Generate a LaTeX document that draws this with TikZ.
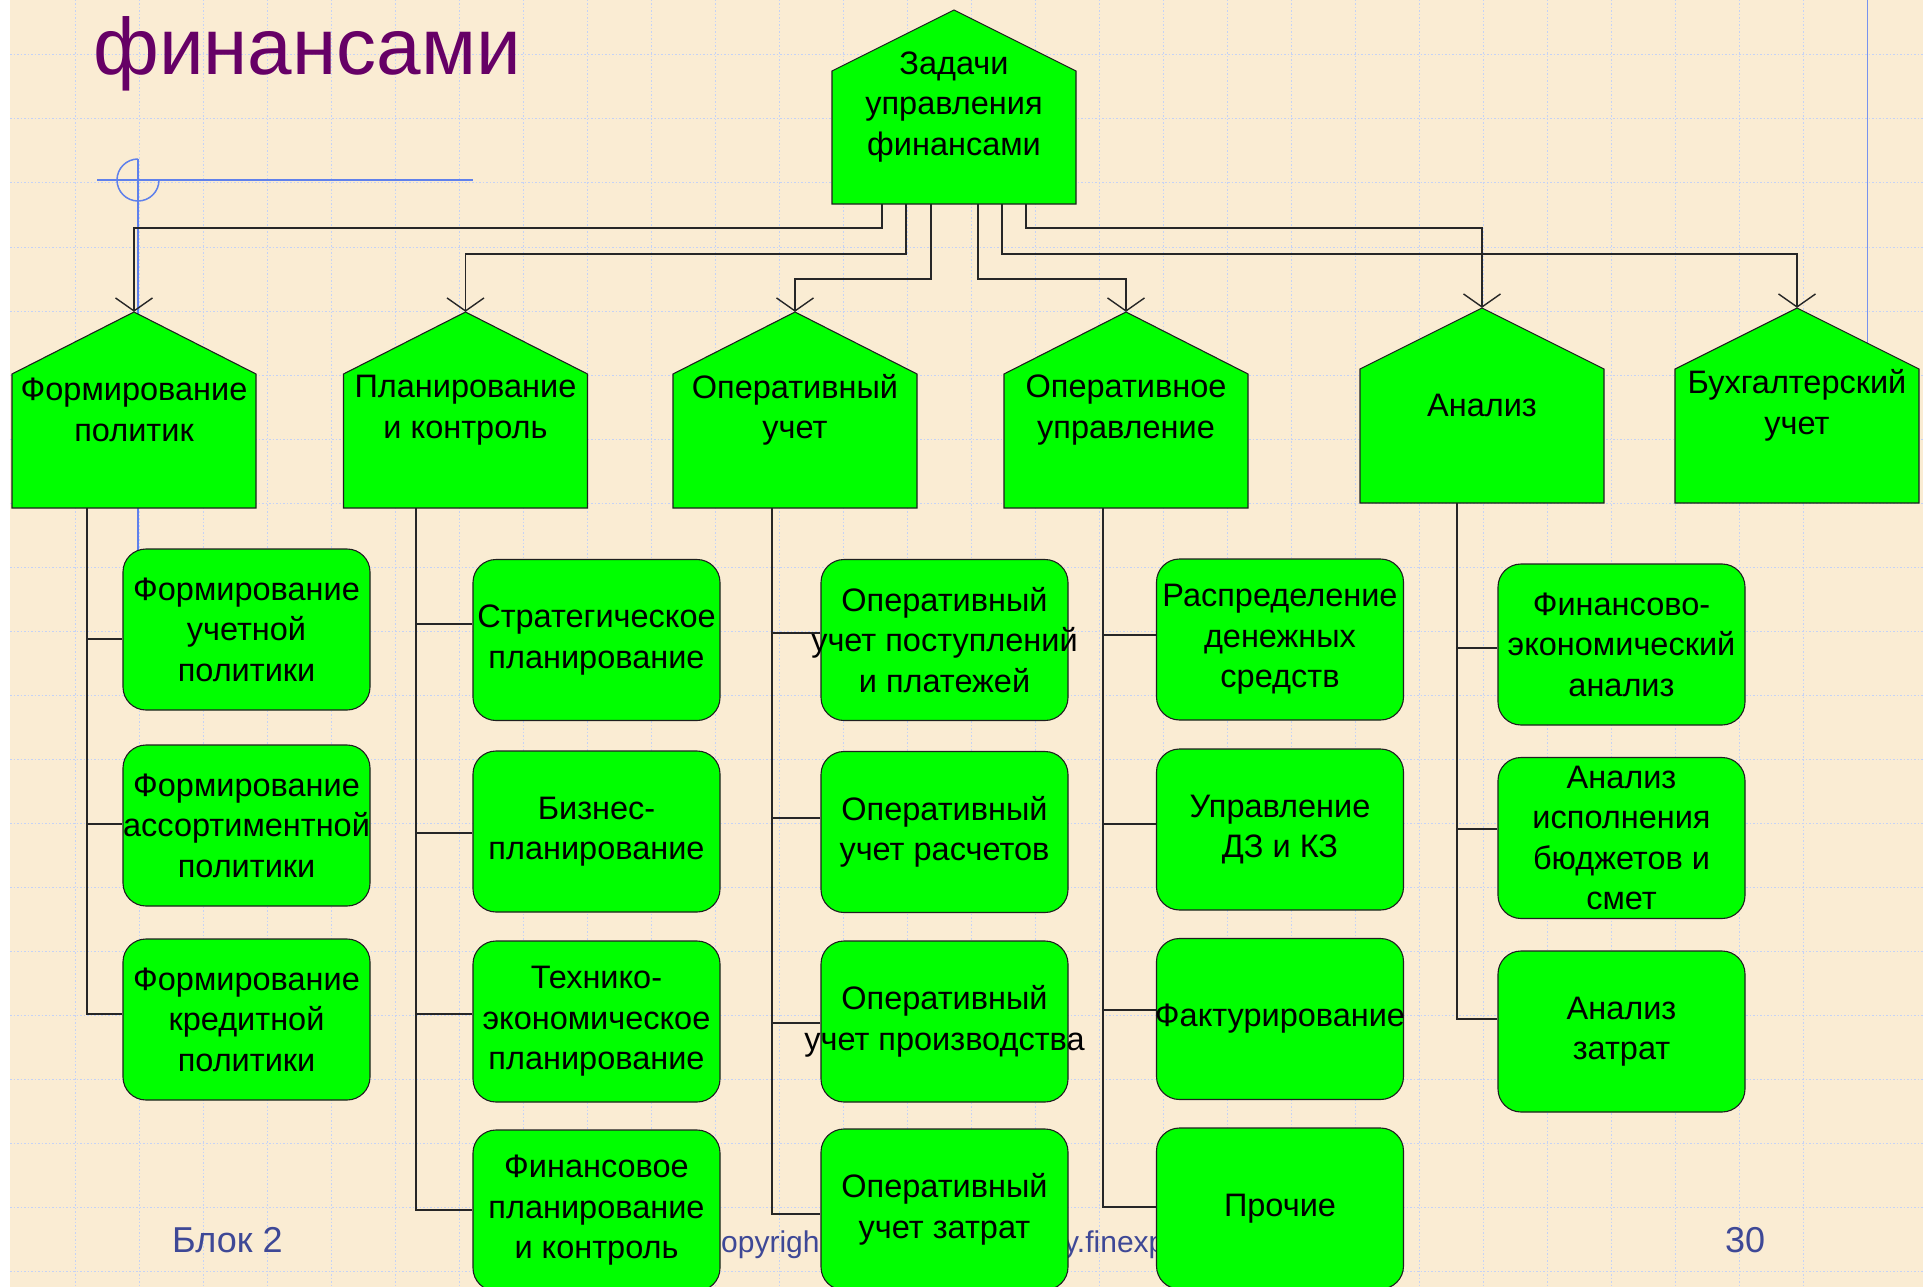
\documentclass[tikz,border=0pt]{standalone}
\usepackage{fontspec}
\setmainfont{Liberation Sans}
\usetikzlibrary{arrows.meta,calc}

\pgfdeclarelayer{back}
\pgfdeclarelayer{lines}
\pgfsetlayers{back,lines,main}

\definecolor{paper}{RGB}{250,236,211}
\definecolor{gridblue}{RGB}{196,210,246}
\definecolor{guideblue}{RGB}{95,128,235}
\definecolor{boxgreen}{RGB}{0,255,0}
\definecolor{titlepurple}{RGB}{102,0,102}
\definecolor{footblue}{RGB}{62,72,150}

\newcommand\boxfont{\fontsize{32.5}{40.5}\selectfont}

\tikzset{
  % negative x-padding keeps the box at its fixed size when a line runs wider
  box/.style={draw=black!88, line width=1.1pt, fill=boxgreen, rounded corners=23pt,
    minimum width=247pt, minimum height=161pt, inner xsep=-60pt, inner ysep=0pt,
    align=center, font=\boxfont},
  housetext/.style={minimum width=244pt, inner xsep=-60pt, inner ysep=0pt,
    align=center, font=\boxfont},
  houseshape/.style={draw=black!88, line width=1.1pt, fill=boxgreen},
  conn/.style={line width=1.2pt, draw=black!85},
  tip/.style={-{Straight Barb[length=13pt,width=37pt,line width=1.4pt]}},
  gridline/.style={gridblue, line width=1pt, dash pattern=on 1.5pt off 2pt},
  guide/.style={guideblue, line width=1.5pt},
  foot/.style={anchor=base west, inner sep=0pt, text=footblue},
}

% pentagon ("house") block: name, centre x, apex y, bottom y, roof drop, label
\newcommand\roofbox[6]{%
  \filldraw[houseshape] ({#2-122},#4) -- ({#2-122},{#3+#5}) -- (#2,#3)
    -- ({#2+122},{#3+#5}) -- ({#2+122},#4) -- cycle;
  \node[housetext, minimum height={#4-#3}] (#1) at (#2,{(#3+#4)/2}) {#6};
}

\begin{document}
\begin{tikzpicture}[x=1pt,y=-1pt]
\useasboundingbox (0,0) rectangle (1923,1287);

% paper, grid, guides, title and footer
\begin{pgfonlayer}{back}
  \fill[white] (0,0) rectangle (1923,1287);
  \fill[paper] (10,0) rectangle (1923,1287);
  \foreach \i in {0,...,27} \draw[gridline] ({75+64*\i},0) -- ({75+64*\i},1287);
  \foreach \j in {0,...,19} \draw[gridline] (10,{55+64*\j}) -- (1923,{55+64*\j});
  \draw[guideblue!85, line width=1pt] (1867,0) -- (1867,400);
  \draw[guide] (97,180) -- (473,180);
  \draw[guide] (138,159) -- (138,560);
  \draw[guide] (138,159) arc[start angle=270, end angle=0, radius=21];
  \node[anchor=base west, inner sep=0pt, text=titlepurple,
        font=\fontsize{80}{90}\selectfont] (title) at (93,75) {финансами};
  \node[foot, font=\fontsize{36}{40}\selectfont] (blk) at (172,1252) {Блок 2};
  \node[foot, font=\fontsize{30}{34}\selectfont] (cpa) at (721,1252) {opyrigh};
  \node[foot, font=\fontsize{30}{34}\selectfont] (cpb) at (1064,1252) {y.finexp};
  \node[foot, font=\fontsize{36}{40}\selectfont] (num) at (1725,1252) {30};
\end{pgfonlayer}

% top block and the six headings
\roofbox{top}{954}{10}{204}{61}{Задачи\\управления\\финансами}
\roofbox{h1}{134}{312}{508}{62}{Формирование\\политик}
\roofbox{h2}{465.5}{312}{508}{62}{Планирование\\и контроль}
\roofbox{h3}{795}{312}{508}{62}{Оперативный\\учет}
\roofbox{h4}{1126}{312}{508}{62}{Оперативное\\управление}
\roofbox{h5}{1482}{308}{503}{61}{Анализ}
\roofbox{h6}{1797}{308}{503}{61}{Бухгалтерский\\учет}

% column 1
\node[box] (b11) at (246.5,629.5) {Формирование\\учетной\\политики};
\node[box] (b12) at (246.5,825.5) {Формирование\\ассортиментной\\политики};
\node[box] (b13) at (246.5,1019.5) {Формирование\\кредитной\\политики};
% column 2
\node[box] (b21) at (596.5,640) {Стратегическое\\планирование};
\node[box] (b22) at (596.5,831.5) {Бизнес-\\планирование};
\node[box] (b23) at (596.5,1021.5) {Технико-\\экономическое\\планирование};
\node[box] (b24) at (596.5,1210.5) {Финансовое\\планирование\\и контроль};
% column 3
\node[box] (b31) at (944.5,640) {Оперативный\\учет поступлений\\и платежей};
\node[box] (b32) at (944.5,832) {Оперативный\\учет расчетов};
\node[box] (b33) at (944.5,1021.5) {Оперативный\\учет производства};
\node[box] (b34) at (944.5,1209.5) {Оперативный\\учет затрат};
% column 4
\node[box] (b41) at (1280,639.5) {Распределение\\денежных\\средств};
\node[box] (b42) at (1280,829.5) {Управление\\ДЗ и КЗ};
\node[box] (b43) at (1280,1019) {Фактурирование};
\node[box] (b44) at (1280,1208.5) {Прочие};
% column 5
\node[box] (b51) at (1621.5,644.5) {Финансово-\\экономический\\анализ};
\node[box] (b52) at (1621.5,838) {Анализ\\исполнения\\бюджетов и\\смет};
\node[box] (b53) at (1621.5,1031.5) {Анализ\\затрат};

\begin{pgfonlayer}{lines}
  % from the top block to the headings
  \coordinate (bus1) at (0,228);
  \coordinate (bus2) at (0,254);
  \coordinate (bus3) at (0,279);
  \draw[conn,tip] ($(top.south)+(-72,0)$) |- (h1.north |- bus1) -- (h1.north);
  \draw[conn,tip] ($(top.south)+(-48,0)$) |- (h2.north |- bus2) -- (h2.north);
  \draw[conn,tip] ($(top.south)+(-23,0)$) |- (h3.north |- bus3) -- (h3.north);
  \draw[conn,tip] ($(top.south)+(24,0)$) |- (h4.north |- bus3) -- (h4.north);
  \draw[conn,tip] ($(top.south)+(72,0)$) |- (h5.north |- bus1) -- (h5.north);
  \draw[conn,tip] ($(top.south)+(48,0)$) |- (h6.north |- bus2) -- (h6.north);

  % trunks and branches
  \coordinate (t1) at ($(h1.south)+(-47,0)$);
  \draw[conn] (t1) |- ($(b13.west)+(0,-5.5)$);
  \draw[conn] ($(b11.west)+(0,9.5)$) -| (t1);
  \draw[conn] ($(b12.west)+(0,-1.5)$) -| (t1);

  \coordinate (t2) at ($(h2.south)+(-49.5,0)$);
  \draw[conn] (t2) |- ($(b24.west)+(0,-0.5)$);
  \draw[conn] ($(b21.west)+(0,-16)$) -| (t2);
  \draw[conn] ($(b22.west)+(0,1.5)$) -| (t2);
  \draw[conn] ($(b23.west)+(0,-7.5)$) -| (t2);

  \coordinate (t3) at ($(h3.south)+(-23,0)$);
  \draw[conn] (t3) |- ($(b34.west)+(0,4.5)$);
  \draw[conn] ($(b31.west)+(0,-7)$) -| (t3);
  \draw[conn] ($(b32.west)+(0,-14)$) -| (t3);
  \draw[conn] ($(b33.west)+(0,1.5)$) -| (t3);

  \coordinate (t4) at ($(h4.south)+(-23,0)$);
  \draw[conn] (t4) |- ($(b44.west)+(0,-1.5)$);
  \draw[conn] ($(b41.west)+(0,-4.5)$) -| (t4);
  \draw[conn] ($(b42.west)+(0,-5.5)$) -| (t4);
  \draw[conn] ($(b43.west)+(0,-9)$) -| (t4);

  \coordinate (t5) at ($(h5.south)+(-25,0)$);
  \draw[conn] (t5) |- ($(b53.west)+(0,-12.5)$);
  \draw[conn] ($(b51.west)+(0,3.5)$) -| (t5);
  \draw[conn] ($(b52.west)+(0,-9)$) -| (t5);
\end{pgfonlayer}
\end{tikzpicture}
\end{document}
